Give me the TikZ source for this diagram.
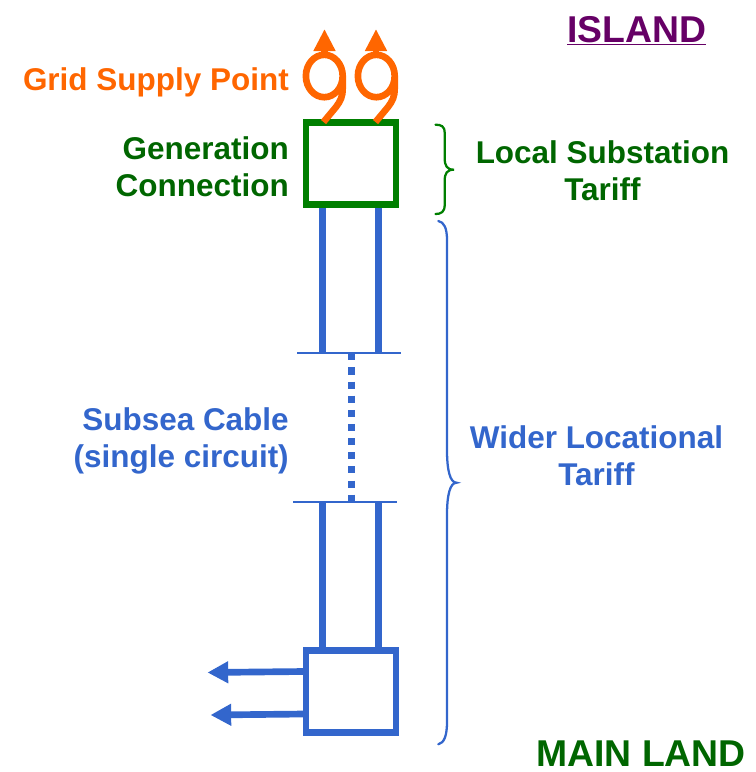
\documentclass[tikz,border=0pt]{standalone}
\usepackage{fontspec}
\setmainfont{Liberation Sans}
\usetikzlibrary{arrows.meta}
\definecolor{gsporange}{HTML}{FF6600}
\definecolor{boxgreen}{HTML}{007F00}
\definecolor{txtgreen}{HTML}{006600}
\definecolor{cableblue}{HTML}{3366CC}
\definecolor{islandpurple}{HTML}{660066}
\tikzset{
  lbl/.style={inner sep=0pt,font=\fontsize{23.6}{27.75}\selectfont\bfseries},
  bigl/.style={inner sep=0pt,font=\fontsize{28}{32}\selectfont\bfseries},
  subbox/.style={draw,fill=white,line width=5pt,inner sep=0pt,minimum width=67.5pt,minimum height=61.5pt},
  cable/.style={cableblue,line width=5.3pt},
  bar/.style={cableblue,line width=1.7pt},
  feed/.style={cableblue,line width=5pt,-{Triangle[length=15.5pt,width=15.5pt]}},
  gsp/.style={gsporange,line width=5pt},
  gsptip/.style={gsporange,line width=5pt,-{Triangle[length=16.5pt,width=15.5pt]}},
  brace/.style={line width=1.7pt,line cap=round}
}
\begin{document}
\begin{tikzpicture}[x=0.75pt,y=-0.75pt]
\useasboundingbox (0,0) rectangle (756,772);
% coordinates
\coordinate (a1) at (322.5,204);
\coordinate (a2) at (378.7,204);
\coordinate (b1) at (322.5,353.3);
\coordinate (b2) at (378.7,353.3);
\coordinate (barAl) at (297,353.3);
\coordinate (barAr) at (401,353.3);
\coordinate (barBl) at (293,502);
\coordinate (barBr) at (397,502);
\coordinate (dotA) at (351.3,353.3);
\coordinate (dotB) at (351.3,502);
\coordinate (c1) at (322.5,502);
\coordinate (c2) at (378.7,502);
\coordinate (d1) at (322.5,650);
\coordinate (d2) at (378.7,650);
\coordinate (e1) at (304,671.5);
\coordinate (f1) at (207.5,672.5);
\coordinate (e2) at (304,714);
\coordinate (f2) at (210.5,715);
\coordinate (g1s) at (324.5,56);
\coordinate (g1t) at (324.5,29);
\coordinate (g2s) at (376,56);
\coordinate (g2t) at (376,29);
% cables
\draw[cable] (a1) -- (b1);
\draw[cable] (a2) -- (b2);
\draw[cable] (c1) -- (d1);
\draw[cable] (c2) -- (d2);
\draw[bar] (barAl) -- (barAr);
\draw[bar] (barBl) -- (barBr);
\draw[cableblue,line width=5.3pt,dash pattern=on 5.3pt off 5.3pt] (dotA) -- (dotB);
% boxes
\node[subbox,draw=boxgreen] (gen) at (351,163.6) {};
\node[subbox,draw=cableblue] (main) at (351,691.3) {};
\draw[feed] (e1) -- (f1);
\draw[feed] (e2) -- (f2);
% grid supply transformers
\foreach \dx in {0,52}{
  \draw[gsp] (342.7+\dx,76) arc[start angle=0,end angle=360,x radius=18.4,y radius=21.2]
     -- (342.7+\dx,88) .. controls (342.7+\dx,97) and (340.5+\dx,101) .. (336+\dx,107)
     -- (323.5+\dx,122);
}
\draw[gsptip] (g1s) -- (g1t);
\draw[gsptip] (g2s) -- (g2t);
% braces
\draw[brace,boxgreen] (435.5,124.7) .. controls (441,124.7) and (444.7,126) .. (444.7,133)
  -- (444.7,158) .. controls (444.7,166) and (447,169.7) .. (454,169.7)
  .. controls (447,169.7) and (444.7,173) .. (444.7,181)
  -- (444.7,205) .. controls (444.7,212) and (441,214) .. (435.5,214);
\draw[brace,cableblue] (438.3,221) .. controls (444,222) and (447,228) .. (447,240)
  -- (447,450) .. controls (447,470) and (450,482.7) .. (456.5,482.7)
  .. controls (450,482.7) and (447,495) .. (447,515)
  -- (447,722) .. controls (447,736) and (444,743) .. (438.3,744.3);
% labels
\node[lbl,text=gsporange,anchor=base east] (gsplabel) at (289,90) {Grid Supply Point};
\node[lbl,text=txtgreen,anchor=east,align=right] (genlabel) at (289,167) {Generation\\Connection};
\node[lbl,text=txtgreen,anchor=center,align=center] (loclabel) at (602.5,171) {Local Substation\\Tariff};
\node[lbl,text=cableblue,anchor=east,align=right] (sublabel) at (289,441) {Subsea Cable\\(single circuit)};
\node[lbl,text=cableblue,anchor=center,align=center] (widlabel) at (596.5,456) {Wider Locational\\Tariff};
\node[bigl,text=islandpurple,anchor=base] (island) at (636.5,42) {\underline{ISLAND}};
\node[bigl,text=txtgreen,anchor=base] (mainland) at (641,766) {MAIN LAND};
\end{tikzpicture}
\end{document}
